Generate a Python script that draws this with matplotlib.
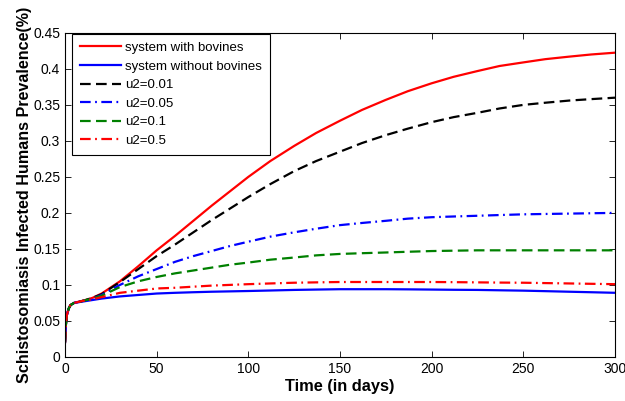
"""
Schistosomiasis prevalence in humans, with and without bovines
"""
import matplotlib
matplotlib.use("Agg")
import matplotlib.pyplot as plt

# time points (days)
t = [0, 0.5, 1, 2, 3, 5, 10, 15, 20, 30, 40, 50, 60, 70, 80, 90, 100, 112,
     125, 137, 150, 162, 175, 187, 200, 212, 225, 237, 250, 262, 275, 287, 300]

# infected human prevalence for each scenario
early = [0.02, 0.045, 0.058, 0.067, 0.072, 0.075]
with_bovines = early + [0.078, 0.082, 0.088, 0.105, 0.126, 0.148, 0.168,
                        0.189, 0.21, 0.23, 0.25, 0.272, 0.293, 0.311, 0.328,
                        0.343, 0.357, 0.369, 0.38, 0.389, 0.397, 0.404, 0.409,
                        0.4135, 0.417, 0.42, 0.4225]
without_bovines = early + [0.077, 0.079, 0.081, 0.084, 0.086, 0.088, 0.089,
                           0.0898, 0.0905, 0.091, 0.0915, 0.0922, 0.093,
                           0.0935, 0.094, 0.094, 0.094, 0.0938, 0.0935,
                           0.0932, 0.093, 0.0925, 0.092, 0.0913, 0.0905,
                           0.0898, 0.089]
u2_001 = early + [0.078, 0.082, 0.087, 0.104, 0.122, 0.140, 0.156, 0.173,
                  0.19, 0.206, 0.222, 0.24, 0.258, 0.272, 0.285, 0.297, 0.308,
                  0.317, 0.326, 0.333, 0.339, 0.345, 0.35, 0.353, 0.356,
                  0.358, 0.36]
u2_005 = early + [0.078, 0.081, 0.086, 0.1, 0.112, 0.122, 0.132, 0.14, 0.147,
                  0.154, 0.16, 0.167, 0.173, 0.178, 0.183, 0.186, 0.189,
                  0.192, 0.194, 0.195, 0.196, 0.197, 0.198, 0.1985, 0.199,
                  0.1995, 0.2]
u2_01 = early + [0.078, 0.081, 0.085, 0.097, 0.105, 0.111, 0.116, 0.12,
                 0.124, 0.128, 0.131, 0.135, 0.138, 0.141, 0.143, 0.144,
                 0.145, 0.146, 0.147, 0.1475, 0.148, 0.148, 0.148, 0.148,
                 0.148, 0.148, 0.148]
u2_05 = early + [0.078, 0.08, 0.083, 0.089, 0.092, 0.095, 0.096, 0.0975,
                 0.099, 0.1, 0.101, 0.102, 0.103, 0.1035, 0.104, 0.104,
                 0.104, 0.104, 0.104, 0.1038, 0.1035, 0.1032, 0.103, 0.1025,
                 0.102, 0.1015, 0.101]

plt.rcParams['font.family'] = ['Liberation Sans', 'DejaVu Sans']

fig = plt.figure(figsize=(6.25, 4.01), dpi=100)
ax = fig.add_axes([0.104, 0.110, 0.880, 0.808])

lw = 1.6
dashed = (0, (4.8, 2.4))
dashdot = (0, (4.8, 2.0, 0.8, 2.0))
green = (0, 0.5, 0)

ax.plot(t, with_bovines, color='red', lw=lw, label='system with bovines')
ax.plot(t, without_bovines, color='blue', lw=lw, label='system without bovines')
ax.plot(t, u2_001, color='black', lw=lw, ls=dashed, label='u2=0.01')
ax.plot(t, u2_005, color='blue', lw=lw, ls=dashdot, label='u2=0.05')
ax.plot(t, u2_01, color=green, lw=lw, ls=dashed, label='u2=0.1')
ax.plot(t, u2_05, color='red', lw=lw, ls=dashdot, label='u2=0.5')

ax.set_xlim(0, 300)
ax.set_ylim(0, 0.45)
ax.set_xticks(range(0, 301, 50))
ax.set_yticks([0, 0.05, 0.1, 0.15, 0.2, 0.25, 0.3, 0.35, 0.4, 0.45])
ax.set_yticklabels(['0', '0.05', '0.1', '0.15', '0.2', '0.25', '0.3',
                    '0.35', '0.4', '0.45'])
ax.tick_params(direction='in', top=True, right=True, labelsize=10,
               length=4, width=0.6)
for s in ax.spines.values():
    s.set_linewidth(0.8)

ax.set_xlabel('Time (in days)', fontsize=11.8, fontweight='bold', labelpad=2)
ax.set_ylabel('Schistosomiasis Infected Humans Prevalence(%)', fontsize=11.6,
              fontweight='bold', labelpad=1)

leg = ax.legend(loc='upper left', bbox_to_anchor=(0.0127, 0.997),
                borderaxespad=0, fontsize=9.5, fancybox=False, framealpha=1,
                edgecolor='black', handlelength=3.1, handletextpad=0.35,
                labelspacing=0.48, borderpad=0.6)
leg.get_frame().set_linewidth(0.8)

fig.savefig('out.png', dpi=100)
